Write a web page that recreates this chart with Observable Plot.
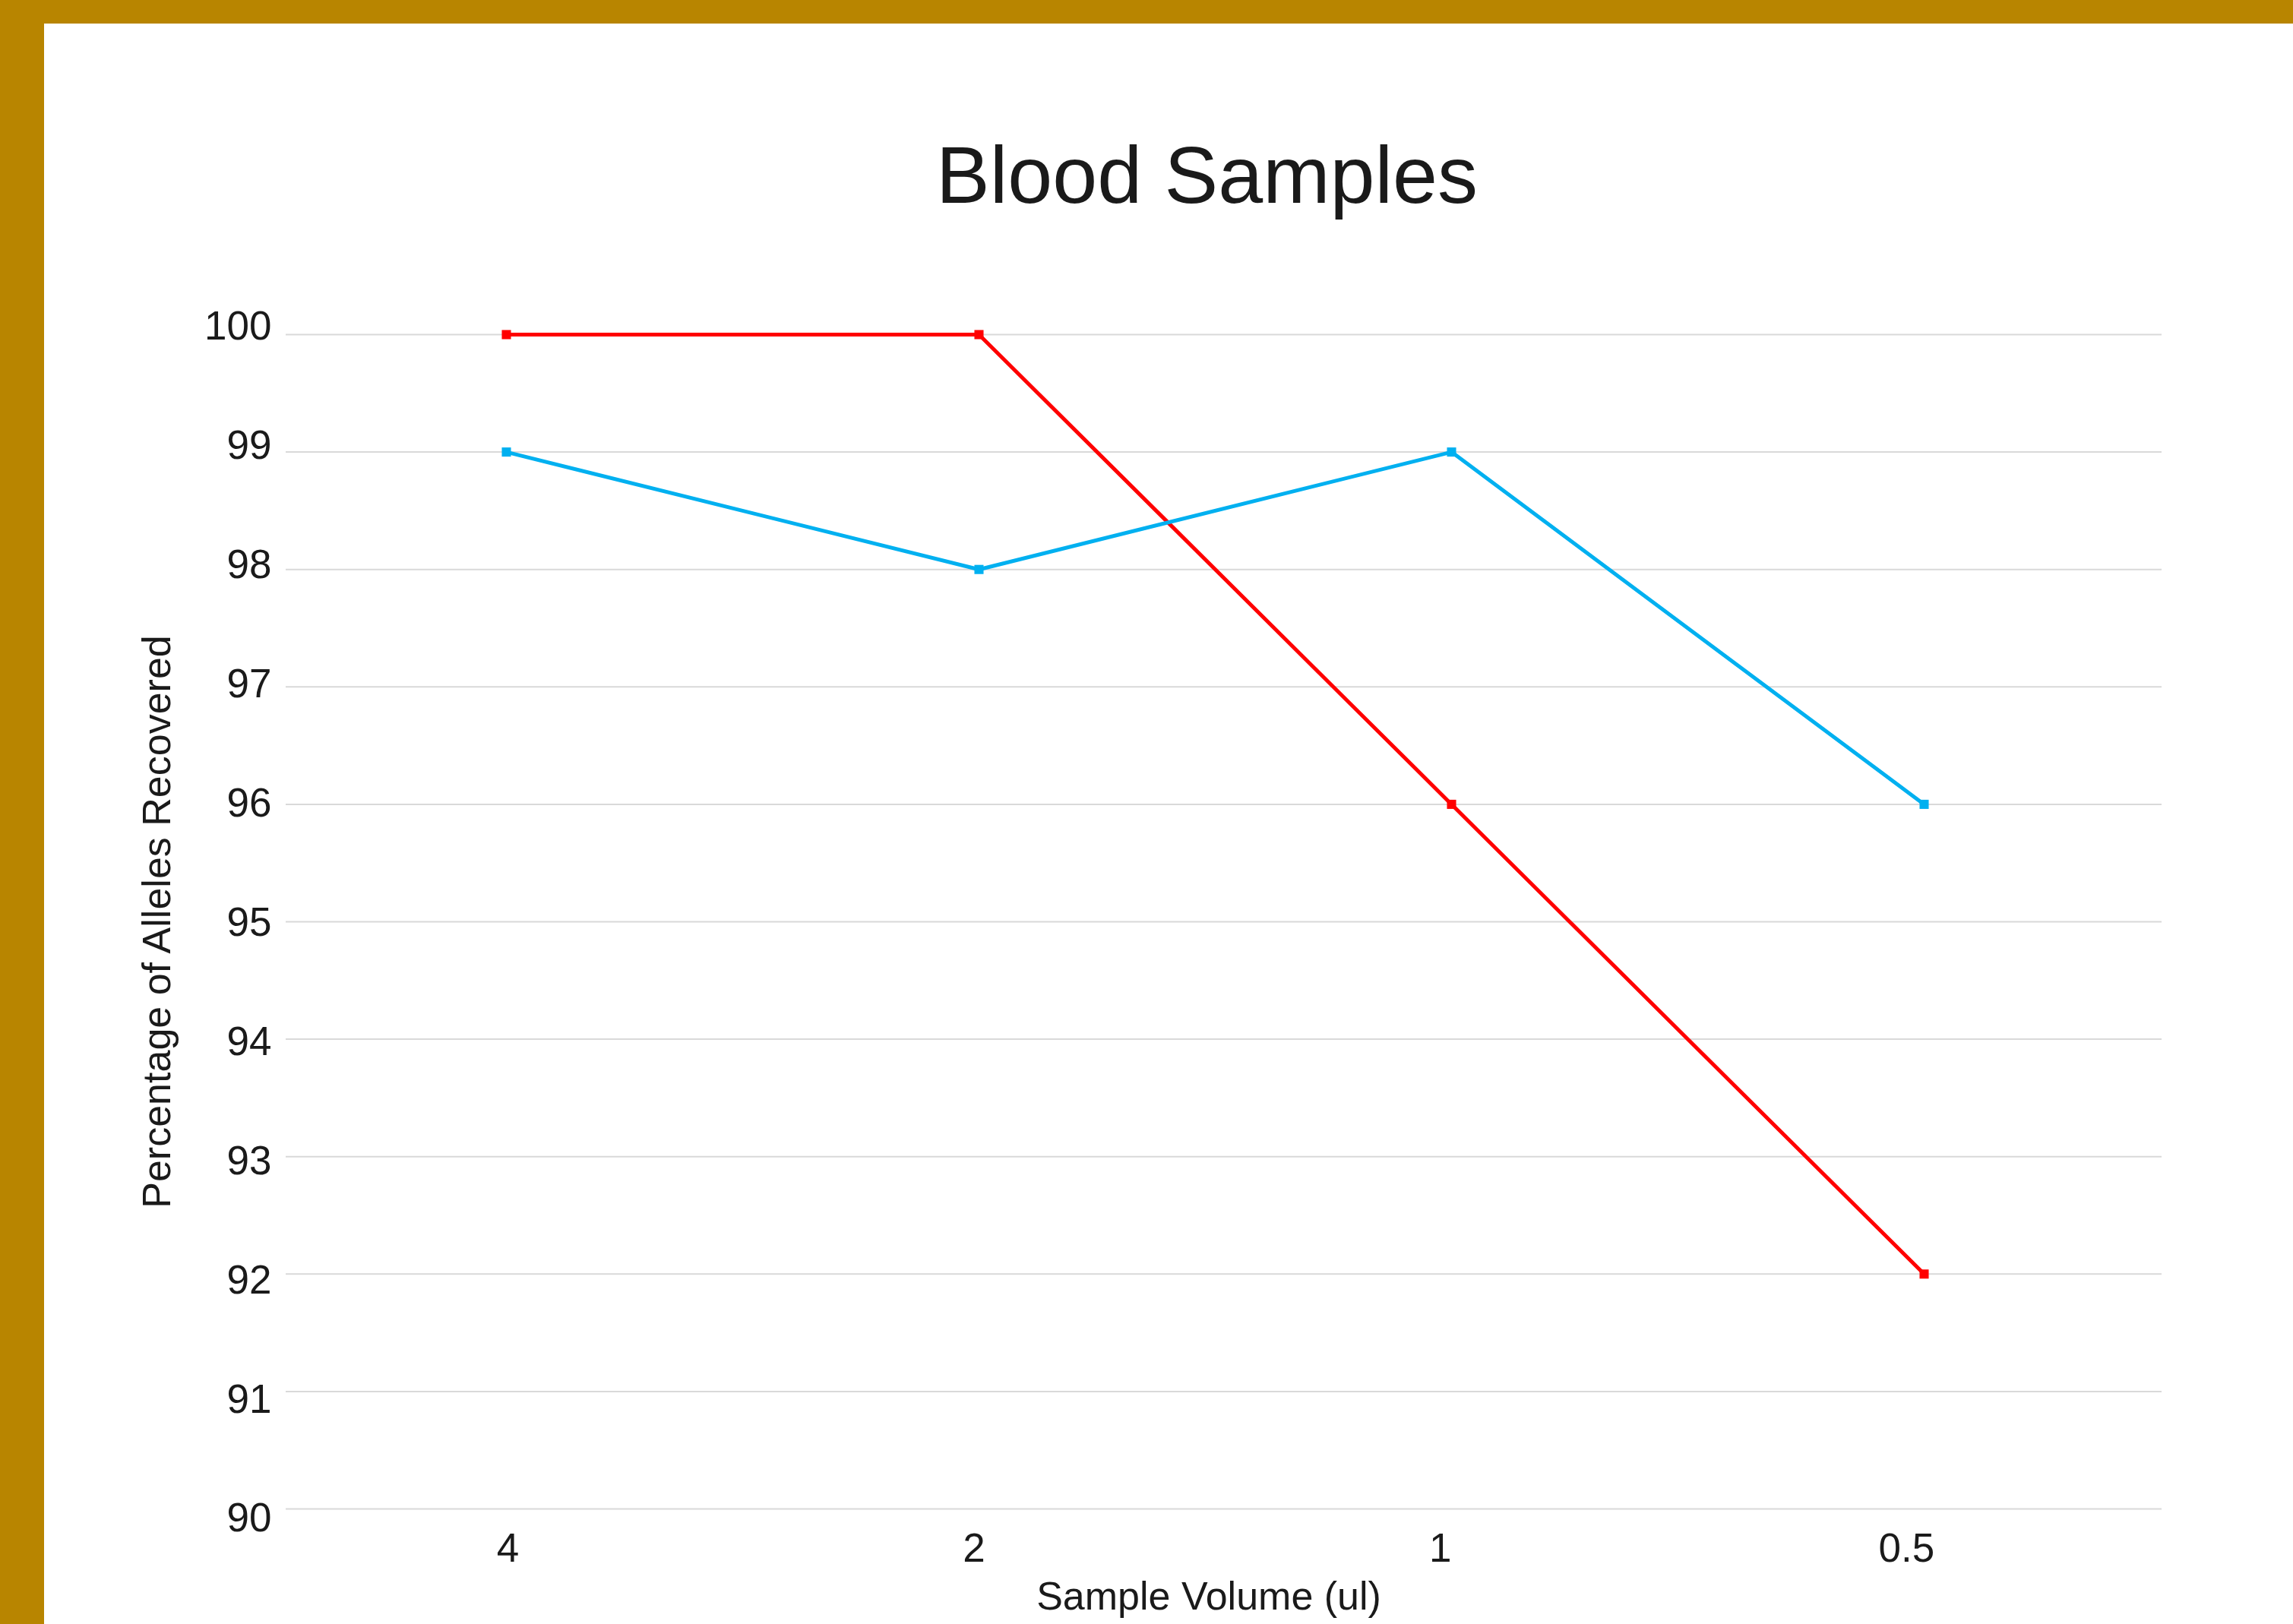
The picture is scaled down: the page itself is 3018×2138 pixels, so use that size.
<!DOCTYPE html>
<html>
<head>
<meta charset="utf-8">
<script src="https://cdn.jsdelivr.net/npm/d3@7"></script>
<script src="https://cdn.jsdelivr.net/npm/@observablehq/plot@0.6"></script>
<style>
  html, body { margin: 0; padding: 0; background: #fff; }
  #frame {
    position: relative; width: 3018px; height: 2138px; box-sizing: border-box;
    border-top: 31px solid #B88500; border-left: 58px solid #B88500;
    overflow: hidden; font-family: "Liberation Sans", Arial, sans-serif; background: #fff;
  }
  #title {
    height: 320px; box-sizing: border-box; padding-top: 146px; padding-left: 101px;
    text-align: center; font-size: 106px; line-height: 1; color: #1a1a1a; white-space: nowrap;
  }
</style>
</head>
<body>
<div id="frame">
  <div id="title">Blood Samples</div>
  <div id="chart"></div>
</div>
<script>
// ---- data ----
const volumes = ["4", "2", "1", "0.5"];
const seriesNames = ["Series 1", "Series 2"];
const series1 = [100, 100, 96, 92];
const series2 = [99, 98, 99, 96];
const seriesColors = ["#FF0000", "#00B0F0"];
const yTicks = [90, 91, 92, 93, 94, 95, 96, 97, 98, 99, 100];
const xTitle = "Sample Volume (ul)";
const yTitle = "Percentage of Alleles Recovered";

const rows = [];
[series1, series2].forEach((vals, s) => {
  volumes.forEach((v, i) => rows.push({volume: v, value: vals[i], series: seriesNames[s]}));
});

const font = "'Liberation Sans', Arial, sans-serif";
const labelStyle = {fontSize: 53, label: null, fill: "#1a1a1a", tickSize: 0};

// tick labels in the original are spread slightly differently from the gridlines
const yLabelMarks = yTicks.map(t =>
  Plot.axisY([t], {...labelStyle, tickPadding: 19, tickFormat: d => String(d), dy: -10 + 2.3 * (100 - t)})
);
const xLabelMarks = volumes.map((v, i) =>
  Plot.axisX([v], {...labelStyle, tickPadding: 32, dx: 2 - 8.4 * i})
);

const plot = Plot.plot({
  width: 2960,
  height: 1787,
  marginTop: 89,
  marginBottom: 152,
  marginLeft: 318,
  marginRight: 173,
  style: {fontFamily: font, background: "transparent", color: "#1a1a1a"},
  x: {type: "point", domain: volumes, range: [607, 2475], padding: 0},
  y: {domain: [90, 100]},
  color: {domain: seriesNames, range: seriesColors},
  marks: [
    Plot.gridY(yTicks, {stroke: "#d9d9d9", strokeOpacity: 1, strokeWidth: 2}),
    ...yLabelMarks,
    ...xLabelMarks,
    Plot.line(rows, {x: "volume", y: "value", stroke: "series", strokeWidth: 5}),
    Plot.dot(rows, {x: "volume", y: "value", fill: "series", symbol: "square", r: 6.8}),
    Plot.text([xTitle], {frameAnchor: "bottom", lineAnchor: "middle", textAnchor: "middle", dy: 116, dx: -20, fontSize: 52, fill: "#1a1a1a"}),
    Plot.text([yTitle], {frameAnchor: "left", lineAnchor: "middle", textAnchor: "middle", rotate: -90, dx: -169, fontSize: 52, fill: "#1a1a1a"})
  ]
});
document.getElementById("chart").appendChild(plot);
</script>
</body>
</html>
